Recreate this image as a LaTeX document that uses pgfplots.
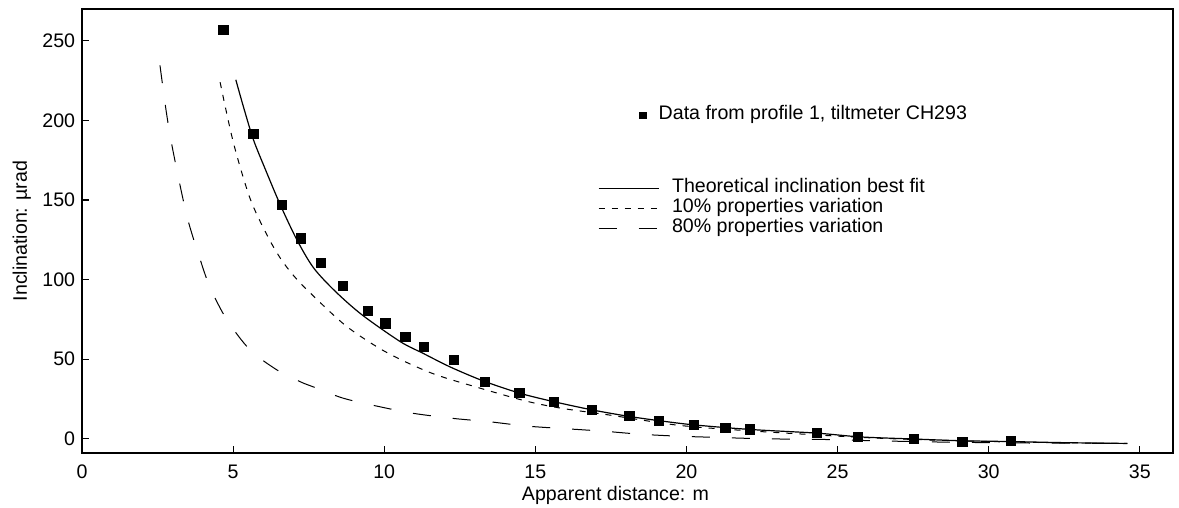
\documentclass[border=0pt]{standalone}
\usepackage{fontspec}
\setmainfont{Liberation Sans}
\usepackage{pgfplots}
\pgfplotsset{compat=1.18}

% measured tilt data, profile 1
\pgfplotstableread{
x y
4.68 256.7
5.67 191.5
6.61 146.9
7.24 125.9
7.91 110.5
8.62 96.2
9.46 80.4
10.04 72.4
10.70 64.2
11.30 57.9
12.30 49.3
13.32 35.6
14.47 28.9
15.61 23.2
16.88 18.0
18.11 14.2
19.10 11.2
20.24 8.7
21.29 6.8
22.09 5.8
24.33 3.7
25.68 1.1
27.53 -0.1
29.13 -2.0
30.73 -1.6
}\tiltdata

\begin{document}
\fontsize{9.8}{11.5}\selectfont
\begin{tikzpicture}
\pgfplotsset{
  every axis/.append style={
    scale only axis, width=545.5pt, height=222pt,
    xmin=0, xmax=36.1, ymin=-9, ymax=270,
  },
}
\begin{axis}[
    name=main,
    axis line style={line width=1pt},
    xtick={0,5,...,35}, ytick={0,50,...,250},
    xtick pos=bottom, ytick pos=left,
    tick align=inside, major tick length=3.5pt,
    tick style={line width=0.6pt, black},
    /pgf/number format/assume math mode=true,
    xticklabel style={yshift=-2.5pt},
    xlabel={Apparent distance: m},
    ylabel={Inclination: µrad},
    xlabel style={xshift=-6pt, yshift=2.8pt},
    ylabel style={yshift=-1pt},
    legend cell align=left,
    legend style={
      at={(0.473,0.619)}, anchor=north west,
      draw=none, fill=none, inner sep=0pt, outer sep=0pt,
      row sep=0pt,
      nodes={inner sep=0.4pt, text height=7pt, text depth=2.2pt},
      /tikz/every odd column/.append style={column sep=6pt},
    },
    legend image code/.code={\draw[#1] (0pt,0pt) -- (30pt,0pt);},
]
\addplot[only marks, mark=square*, mark size=2.3pt, black, forget plot]
  table[x=x, y=y] {\tiltdata};

\addplot[black, line width=0.6pt, smooth] coordinates {
  (5.09,225.5) (5.35,208) (5.67,188) (6.05,170) (6.56,147) (7.11,125)
  (7.66,107.4) (8.38,92.6) (9.26,77.9) (10.53,61) (11.3,53.5) (12.19,45)
  (13.29,36.2) (14.5,28.5) (15.6,23.3) (16.9,18) (18.1,14) (19.1,11.3)
  (20.23,8.7) (22.1,5.8) (24.3,3.5) (25.76,1.1) (27.5,-0.2) (29.1,-1.3)
  (30.7,-1.8) (32.5,-2.5) (34.59,-3)
};
\addlegendentry{Theoretical inclination best fit}

\addplot[black, line width=0.5pt, smooth, dash pattern=on 3pt off 3.5pt] coordinates {
  (4.57,224) (5.01,186) (5.56,151) (6.12,128) (6.56,113.5) (7.0,102.5)
  (7.55,91.6) (8.76,70.5) (10.09,54.1) (11.58,41.1) (13.18,31.7)
  (14.72,23.5) (15.9,19) (17.4,15) (19.7,8.5) (21.7,5.4) (24,2.7)
  (26,0.6) (28,-0.8) (30,-1.8) (32,-2.5) (34.59,-3)
};
\addlegendentry{10\% properties variation}

\addplot[black, line width=0.5pt, smooth, dash pattern=on 9pt off 11pt] coordinates {
  (2.58,234.6) (2.8,204) (3.02,180) (3.47,140) (3.91,112.6) (4.24,95)
  (4.79,74.8) (5.56,55.8) (6.45,43.2) (7.22,35.8) (7.66,32.5) (8.65,25.4)
  (9.87,20) (10.97,15.9) (12.3,12.7) (13.5,10.6) (14.72,7.9) (16.05,6.2)
  (17.26,4.7) (18.48,2.8) (19.69,1.6) (21.0,0.8) (22.23,0.1) (23.44,-0.3)
  (24.55,-0.5) (26,-1.2) (28,-2) (30,-2.5) (32,-2.8) (34.59,-3)
};
\addlegendentry{80\% properties variation}
\end{axis}

% second, empty axis only for the separate data legend entry
\begin{axis}[
    hide axis,
    legend style={
      at={(0.511,0.761)}, anchor=west,
      draw=none, fill=none, inner sep=0pt, outer sep=0pt,
      nodes={inner sep=0.4pt, text height=7pt, text depth=2.2pt},
      /tikz/every odd column/.append style={column sep=6pt},
    },
]
\addlegendimage{only marks, mark=square*, mark size=1.6pt, black}
\addlegendentry{Data from profile 1, tiltmeter CH293}
\end{axis}

\pgfresetboundingbox
\path ([xshift=-41pt,yshift=-27.5pt]main.south west)
  rectangle ([xshift=3pt,yshift=4.5pt]main.north east);
\end{tikzpicture}
\end{document}
